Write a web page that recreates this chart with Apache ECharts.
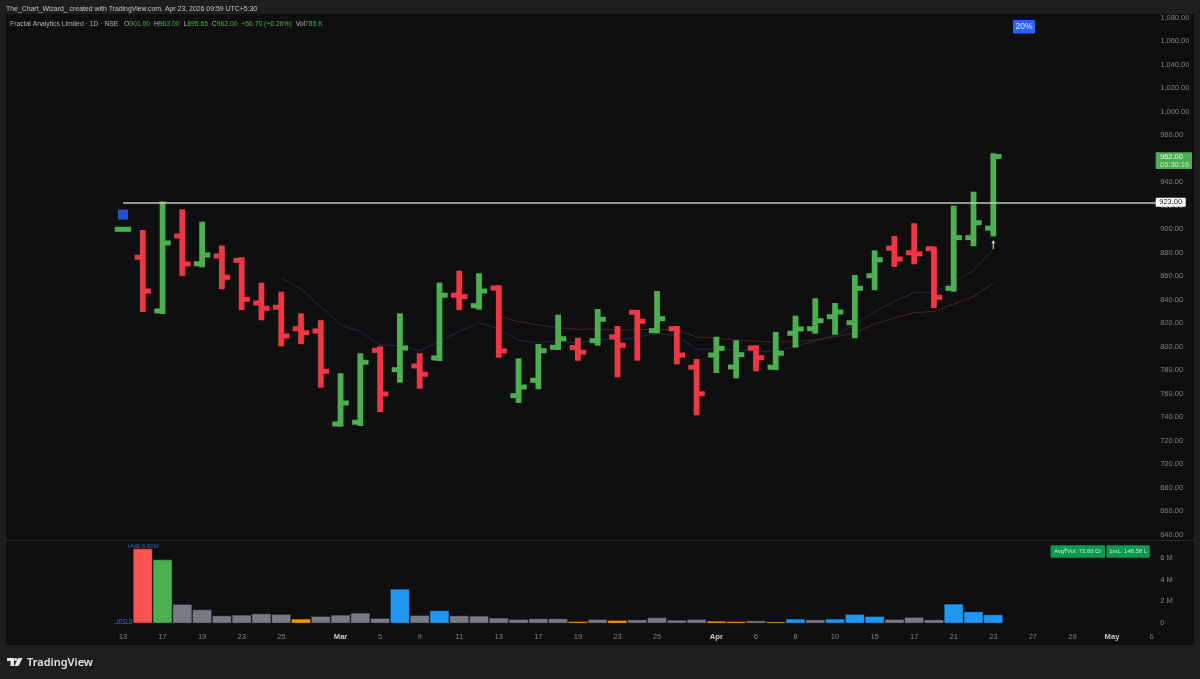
<!DOCTYPE html>
<html>
<head>
<meta charset="utf-8">
<title>Fractal Analytics Limited</title>
<script src="https://cdn.jsdelivr.net/npm/echarts@6/dist/echarts.min.js"></script>
<style>
html, body { margin: 0; padding: 0; background: #1e1e1e; }
#main { width: 1200px; height: 679px; }
</style>
</head>
<body>
<div id="main"></div>
<script>
// tick labels, one per trading day, first five slots are empty space before the IPO bar
var dates = ['', '', '', '', '',
    '13', '', '17', '', '19', '', '23', '', '25', '', '', 'Mar', '', '5', '', '9', '', '11', '', '13', '',
    '17', '', '19', '', '23', '', '25', '', '', 'Apr', '', '6', '', '8', '', '10', '', '15', '', '17', '',
    '21', '', '23', '', '27', '', '29', '', 'May', '', '6', ''];
var months = ['Mar', 'Apr', 'May'];
var leadIn = 5;

var opens = [900, 876.2, 830.5, 894.3, 870.7, 877.3, 873.6, 837.3, 833.6, 815.4, 813.5, 734.3, 735.8, 797, 780.5,
    783.7, 790.5, 843.9, 835, 850, 758.4, 771.5, 799.6, 799.3, 805.2, 808.4, 829.4, 813.7, 815.4, 782.6,
    793, 782.8, 799, 782.6, 811.5, 815.4, 825.6, 820.5, 860.5, 883.9, 880.1, 883.5, 849.8, 892.9, 901];
var highs = [900, 897.7, 922, 915.3, 904.8, 884.4, 874.5, 852.9, 845.2, 826.8, 820.9, 775.8, 792.8, 798.7, 826.8,
    792.8, 852.9, 863.1, 860.9, 850.7, 788.5, 800.7, 825.6, 806, 830.5, 816, 829.6, 845.8, 816, 787.9,
    806.9, 803.9, 799.6, 811, 824.8, 839.6, 835.6, 859.4, 880.4, 892.6, 903.4, 883.5, 918.4, 930.3, 963];
var lows = [900, 831.3, 829.6, 862, 869.4, 850.7, 833, 824.3, 802.1, 803.9, 766.9, 733.7, 734.3, 746.2, 771.2,
    766, 789.6, 833, 833.3, 792.4, 753.9, 765.6, 799, 789.9, 802.7, 775.8, 789.9, 813.2, 786.8, 743.4,
    779.4, 774.9, 780.9, 782, 801, 812.9, 812, 809, 849.8, 869.6, 871.9, 834.7, 848.6, 887.3, 895.65];
var closes = [900, 847.5, 888.4, 870.5, 878.2, 859.2, 840.4, 832.8, 809.2, 812, 779.2, 752.2, 786.8, 759.9, 799,
    776.6, 843.9, 842.7, 847.5, 796.5, 765.8, 796.7, 806.9, 795.3, 823.4, 801.3, 821.7, 823.9, 793, 760,
    798.7, 793.3, 790.7, 794.5, 815.2, 822.2, 829.6, 849.8, 874.1, 874.7, 879, 842.1, 892.9, 905.6, 962];

// short average, starts on the ninth bar
var maFast = [null, null, null, null, null, null, null, null,
    858.3, 849.2, 834.1, 818.6, 812.9, 801.6, 801.1, 796.4, 805, 812.9, 820.3, 815.2, 805.6, 803.5, 805, 803,
    806.4, 805.8, 808.1, 811.5, 809.2, 798.1, 798.1, 797.3, 796.2, 796.2, 800.1, 805, 810.1, 818.6, 829.9,
    838.4, 846.4, 845.8, 855.4, 864.8, 883.3];
// long average, starts on the twentieth bar
var maSlow = [null, null, null, null, null, null, null, null, null, null, null, null, null, null, null, null,
    null, null, null,
    825.8, 821.4, 818.6, 816.3, 814.9, 815.2, 814.3, 814.6, 815.2, 814.3, 808.4, 807.3, 805.8, 804.7, 804.1,
    804.4, 805.8, 808.6, 812, 819.4, 824.5, 829, 830.2, 836.4, 842.7, 854.1];

// volume in millions
var volumes = [0, 6.82, 5.81, 1.74, 1.25, 0.7, 0.76, 0.88, 0.82, 0.4, 0.64, 0.76, 0.94, 0.46, 3.13,
    0.73, 1.16, 0.7, 0.67, 0.49, 0.37, 0.43, 0.43, 0.18, 0.37, 0.27, 0.33, 0.52, 0.3, 0.37,
    0.21, 0.18, 0.24, 0.15, 0.4, 0.33, 0.4, 0.82, 0.64, 0.37, 0.55, 0.33, 1.77, 1.07, 0.79];
var volumeKinds = ['g', 'r', 'n', 'a', 'a', 'a', 'a', 'a', 'a', 'o', 'a', 'a', 'a', 'a', 'b',
    'a', 'b', 'a', 'a', 'a', 'a', 'a', 'a', 'o', 'a', 'o', 'a', 'a', 'a', 'a',
    'o', 'o', 'a', 'o', 'b', 'a', 'b', 'b', 'b', 'a', 'a', 'a', 'b', 'b', 'b'];

var levelPrice = 923;
var lastPrice = 962;

var upColor = '#4caf50';
var downColor = '#f23645';
var volumeColors = { r: '#ff5252', n: '#4caf50', a: '#787b86', o: '#ff9800', b: '#2196f3', g: '#787b86' };
var uiFont = '"Liberation Sans", Arial, sans-serif';

var ohlcData = [];
for (var i = 0; i < opens.length; i++) {
    ohlcData.push([i + leadIn, opens[i], highs[i], lows[i], closes[i]]);
}
var pad = [];
for (var i = 0; i < leadIn; i++) pad.push(null);
var volumeData = pad.concat(volumes.map(function (v, i) {
    return { value: v, itemStyle: { color: volumeColors[volumeKinds[i]] } };
}));

function renderBar(params, api) {
    var x = api.value(0);
    var o = api.coord([x, api.value(1)]);
    var h = api.coord([x, api.value(2)]);
    var l = api.coord([x, api.value(3)]);
    var c = api.coord([x, api.value(4)]);
    var color = api.value(4) >= api.value(1) ? upColor : downColor;
    var stem = 5.8, reach = 8.2, thick = 5;
    var style = { fill: color };
    return {
        type: 'group',
        children: [
            { type: 'rect', shape: { x: h[0] - stem / 2, y: h[1] - 2, width: stem, height: l[1] - h[1] + 4 }, style: style },
            { type: 'rect', shape: { x: o[0] - reach, y: o[1] - thick / 2, width: reach, height: thick }, style: style },
            { type: 'rect', shape: { x: c[0], y: c[1] - thick / 2, width: reach, height: thick }, style: style }
        ]
    };
}

function badge(x, y, w, h, fill, text, textFill, size) {
    return {
        type: 'group', z: 100, silent: true,
        children: [
            { type: 'rect', z: 100, shape: { x: x, y: y, width: w, height: h, r: 1 }, style: { fill: fill } },
            { type: 'text', z: 101, style: { x: x + w / 2, y: y + h / 2, text: text, fill: textFill, font: size + 'px ' + uiFont, align: 'center', verticalAlign: 'middle' } }
        ]
    };
}

var option = {
    animation: false,
    backgroundColor: '#1e1e1e',
    grid: [
        { left: 14.2, width: 1167, top: 17.8, height: 517 },
        { left: 14.2, width: 1167, top: 546.6, height: 76.7 }
    ],
    xAxis: [
        { type: 'category', gridIndex: 0, data: dates, axisLine: { show: false }, axisTick: { show: false }, axisLabel: { show: false }, splitLine: { show: false } },
        {
            type: 'category', gridIndex: 1, data: dates, axisLine: { show: false }, axisTick: { show: false }, splitLine: { show: false },
            axisLabel: {
                interval: 0, margin: 10, color: '#7f8288', fontSize: 7.6, fontFamily: uiFont,
                formatter: function (v) { return months.indexOf(v) >= 0 ? '{m|' + v + '}' : v; },
                rich: { m: { color: '#c8cad0', fontWeight: 'bold', fontSize: 7.6, fontFamily: uiFont } }
            }
        }
    ],
    yAxis: [
        {
            type: 'value', gridIndex: 0, position: 'right', min: 640, max: 1080, interval: 20, scale: true,
            axisLine: { show: false }, axisTick: { show: false }, splitLine: { show: false },
            axisLabel: {
                margin: -21, color: '#7f8288', fontSize: 7.5, fontFamily: uiFont,
                showMinLabel: true, showMaxLabel: true,
                formatter: function (v) {
                    return (v >= 1000 ? Math.floor(v / 1000) + ',' + ('00' + (v % 1000)).slice(-3) : v) + '.00';
                }
            }
        },
        {
            type: 'value', gridIndex: 1, position: 'right', min: 0, max: 7, interval: 2,
            axisLine: { show: false }, axisTick: { show: false }, splitLine: { show: false },
            axisLabel: {
                margin: -21, color: '#7f8288', fontSize: 7.5, fontFamily: uiFont, showMaxLabel: false,
                formatter: function (v) { return v === 0 ? '0' : v + ' M'; }
            }
        }
    ],
    series: [
        {
            type: 'line', xAxisIndex: 0, yAxisIndex: 0, z: 1, symbol: 'none', silent: true,
            data: pad.concat(maFast), lineStyle: { color: '#1d2b4d', width: 1 }
        },
        {
            type: 'line', xAxisIndex: 0, yAxisIndex: 0, z: 1, symbol: 'none', silent: true,
            data: pad.concat(maSlow), lineStyle: { color: '#4d2528', width: 1 }
        },
        {
            type: 'custom', xAxisIndex: 0, yAxisIndex: 0, z: 3, renderItem: renderBar,
            encode: { x: 0, y: [1, 2, 3, 4] }, data: ohlcData
        },
        {
            type: 'line', xAxisIndex: 0, yAxisIndex: 0, z: 4, silent: true, symbol: 'none',
            data: [],
            markLine: {
                silent: true, symbol: 'none', label: { show: false },
                lineStyle: { color: '#c6c6c6', width: 1.5, type: 'solid' },
                data: [[{ coord: [leadIn, levelPrice] }, { coord: [dates.length - 1, levelPrice] }]]
            }
        },
        {
            // IPO marker and the up arrow under the last bar
            type: 'scatter', xAxisIndex: 0, yAxisIndex: 0, z: 5, silent: true,
            data: [
                { value: [leadIn, 912.5], symbol: 'rect', symbolSize: 10, itemStyle: { color: '#2962ff' } },
                { value: [leadIn + 44, 887], symbol: 'path://M5 0L10 5L6.5 5L6.5 14L3.5 14L3.5 5L0 5Z', symbolSize: [4, 9], itemStyle: { color: '#fff8e0' } }
            ]
        },
        {
            type: 'bar', xAxisIndex: 1, yAxisIndex: 1, barWidth: 19.4, z: 3, data: volumeData,
            itemStyle: { borderColor: '#0f0f0f', borderWidth: 0.4 }
        }
    ],
    graphic: [
        { type: 'rect', z: -10, silent: true, shape: { x: 6, y: 14, width: 1188, height: 631 }, style: { fill: '#0f0f0f' } },
        { type: 'rect', z: -9, silent: true, shape: { x: 6, y: 540, width: 1188, height: 1 }, style: { fill: '#2a2a2a' } },
        { type: 'text', z: 100, silent: true, style: { x: 6, y: 9, text: 'The_Chart_Wizard_ created with TradingView.com, Apr 23, 2026 09:59 UTC+5:30', fill: '#c4c4c4', font: '6.9px ' + uiFont, verticalAlign: 'middle' } },
        {
            type: 'text', z: 100, silent: true,
            style: {
                x: 10, y: 24.5, verticalAlign: 'middle',
                text: '{t|Fractal Analytics Limited · 1D · NSE   O}{v|901.00}{t|  H}{v|963.00}{t|  L}{v|895.65}{t|  C}{v|962.00}{v|  +56.70 (+6.26%)}{t|  Vol}{v|785 K}',
                rich: {
                    t: { fill: '#b2b5be', font: '6.8px ' + uiFont },
                    v: { fill: '#4caf50', font: '6.8px ' + uiFont }
                }
            }
        },
        badge(1013, 20, 22, 13.5, '#2962ff', '20%', '#dfe6ff', 8.5),
        badge(1155.7, 197.8, 30, 9, '#ffffff', '923.00', '#131722', 7.5),
        {
            type: 'group', z: 100, silent: true,
            children: [
                { type: 'rect', z: 100, shape: { x: 1155.7, y: 152.3, width: 36.3, height: 16.7, r: 1 }, style: { fill: upColor } },
                { type: 'text', z: 101, style: { x: 1160, y: 157, text: lastPrice + '.00', fill: '#f0f5f0', font: '7.5px ' + uiFont, verticalAlign: 'middle' } },
                { type: 'text', z: 101, style: { x: 1160, y: 164.5, text: '05:30:16', fill: '#c8e6c9', font: '7.5px ' + uiFont, verticalAlign: 'middle' } }
            ]
        },
        badge(1050.5, 545.3, 54.5, 12.4, '#089950', 'Avg₹Vol: 72.66 Cr', '#cdeeda', 5.9),
        badge(1106.4, 545.3, 43.4, 12.4, '#089950', '1mL: 148.58 L', '#cdeeda', 5.9),
        { type: 'text', z: 100, silent: true, style: { x: 128, y: 546.5, text: 'HVE 6.82M', fill: '#2f6fc4', font: '6px ' + uiFont, verticalAlign: 'middle' } },
        { type: 'text', z: 100, silent: true, style: { x: 117, y: 621, text: 'IPO 0', fill: '#2f6fc4', font: '6px ' + uiFont, verticalAlign: 'middle' } },
        { type: 'rect', z: 100, silent: true, shape: { x: 113.5, y: 623.2, width: 19, height: 0.6 }, style: { fill: '#2f6fc4' } },
        { type: 'polygon', z: 100, silent: true, shape: { points: [[7, 658], [14, 658], [14, 666], [10.5, 666], [10.5, 661], [7, 661]] }, style: { fill: '#e6e6e6' } },
        { type: 'circle', z: 100, silent: true, shape: { cx: 15.6, cy: 659.6, r: 1.5 }, style: { fill: '#e6e6e6' } },
        { type: 'polygon', z: 100, silent: true, shape: { points: [[18.2, 658], [22.5, 658], [18.5, 666], [14.3, 666]] }, style: { fill: '#e6e6e6' } },
        { type: 'text', z: 100, silent: true, style: { x: 27, y: 662.5, text: 'TradingView', fill: '#e6e6e6', font: '600 11px "Noto Sans", ' + uiFont, verticalAlign: 'middle' } }
    ]
};

var myChart = echarts.init(document.getElementById('main'));
myChart.setOption(option);
</script>
</body>
</html>
